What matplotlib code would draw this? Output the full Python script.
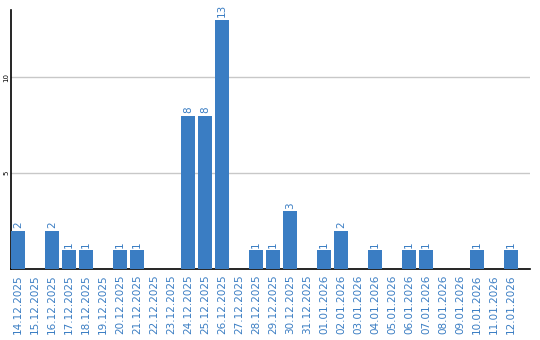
import matplotlib
matplotlib.use("Agg")
import matplotlib.pyplot as plt

dates = ["14.12.2025", "15.12.2025", "16.12.2025", "17.12.2025", "18.12.2025",
         "19.12.2025", "20.12.2025", "21.12.2025", "22.12.2025", "23.12.2025",
         "24.12.2025", "25.12.2025", "26.12.2025", "27.12.2025", "28.12.2025",
         "29.12.2025", "30.12.2025", "31.12.2025", "01.01.2026", "02.01.2026",
         "03.01.2026", "04.01.2026", "05.01.2026", "06.01.2026", "07.01.2026",
         "08.01.2026", "09.01.2026", "10.01.2026", "11.01.2026", "12.01.2026"]
values = [2, 0, 2, 1, 1, 0, 1, 1, 0, 0, 8, 8, 13, 0, 1, 1, 3, 0, 1, 2,
          0, 1, 0, 1, 1, 0, 0, 1, 0, 1]
yticks = [5, 10]

blue = "#3a7dc3"

fig = plt.figure(figsize=(5.4, 3.4), dpi=100)
ax = fig.add_axes([11/540, 71/340, 519/540, 259/340])

x = list(range(len(dates)))
w = 14/17
ax.bar(x, values, width=w, color=blue, zorder=3)
for xi, v in zip(x, values):
    if v > 0:
        ax.text(xi, v + 0.12, str(v), rotation=90, ha="center", va="bottom",
                color=blue, fontsize=7.5, zorder=4)

ax.set_xlim(-w/2, -w/2 + 519/17)
ax.set_ylim(0, 13.5)
ax.set_yticks(yticks)
ax.set_yticklabels([str(t) for t in yticks], rotation=90, va="center", fontsize=5)
ax.tick_params(axis="y", length=0, pad=1)
ax.set_xticks(x)
ax.set_xticklabels(dates, rotation=90, fontsize=7.5, color=blue)
ax.tick_params(axis="x", length=0, pad=4)
ax.grid(axis="y", color="#c8c8c8", linewidth=1, zorder=0)
for s in ["top", "right"]:
    ax.spines[s].set_visible(False)
ax.spines["left"].set_color("black")
ax.spines["bottom"].set_color("black")
ax.spines["left"].set_linewidth(1.2)
ax.spines["bottom"].set_linewidth(1.2)

fig.savefig("out.png", dpi=100)
